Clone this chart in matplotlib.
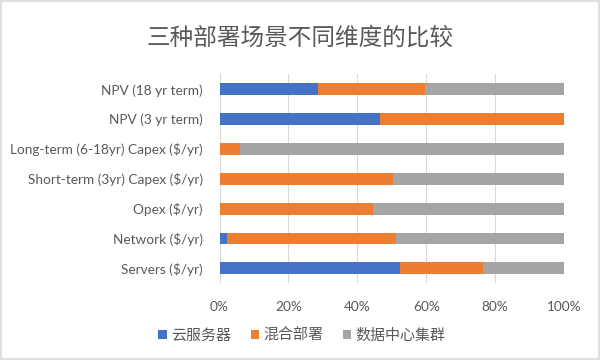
import matplotlib
matplotlib.use("Agg")
import matplotlib.pyplot as plt
from matplotlib.patches import Rectangle
import numpy as np

plt.rcParams['font.family'] = ['Lato', 'Noto Sans CJK SC', 'DejaVu Sans']

categories = ["Servers ($/yr)", "Network ($/yr)", "Opex ($/yr)",
              "Short-term (3yr) Capex ($/yr)", "Long-term (6-18yr) Capex ($/yr)",
              "NPV (3 yr term)", "NPV (18 yr term)"]
cloud = [52.4, 2.1, 0.0, 0.0, 0.0, 46.7, 28.7]
hybrid = [24.0, 49.1, 44.7, 50.3, 6.0, 53.3, 31.0]
datacenter = [23.6, 48.8, 55.3, 49.7, 94.0, 0.0, 40.3]
series_names = ["云服务器", "混合部署", "数据中心集群"]
xticks = [0, 20, 40, 60, 80, 100]
xtick_labels = ["0%", "20%", "40%", "60%", "80%", "100%"]
title = "三种部署场景不同维度的比较"

colors = ["#4472C4", "#ED7D31", "#A5A5A5"]
text_color = "#595959"

fig = plt.figure(figsize=(6, 3.6), dpi=100)
ax = fig.add_axes([219.5/600, 1-283.3/360, (564-219.5)/600, (283.3-74.3)/360])

y = np.arange(len(categories))
left = np.zeros(len(categories))
for vals, c, name in zip([cloud, hybrid, datacenter], colors, series_names):
    ax.barh(y, vals, left=left, height=0.4, color=c, label=name, zorder=3)
    left = left + np.array(vals)

ax.set_xlim(0, 100)
ax.set_ylim(-0.5, len(categories)-0.5)
ax.set_xticks(xticks)
ax.set_xticklabels(xtick_labels)
ax.set_yticks(y)
ax.set_yticklabels(categories)
ax.tick_params(axis='both', length=0, labelsize=9.8, colors=text_color)
ax.tick_params(axis='x', pad=13)
ax.tick_params(axis='y', pad=12)
for s in ax.spines.values():
    s.set_visible(False)
ax.grid(axis='x', color='#D9D9D9', linewidth=0.8, zorder=0)

fig.text(0.5, 1-38/360, title, ha='center', va='center', fontsize=17,
         color=text_color, family=['Noto Sans CJK SC', 'DejaVu Sans'])

handles, labels = ax.get_legend_handles_labels()
leg = fig.legend(handles, labels, loc='center', bbox_to_anchor=(302/600, 1-336/360),
                 ncol=3, frameon=False, handlelength=0.55, handleheight=0.55,
                 handletextpad=0.3, columnspacing=1.3,
                 prop={'family': ['Noto Sans CJK SC', 'DejaVu Sans'], 'size': 10.8})
for t in leg.get_texts():
    t.set_color(text_color)

fig.patches.append(Rectangle((0.002, 0.002), 0.996, 0.996, transform=fig.transFigure,
                             fill=False, edgecolor='#D9D9D9', linewidth=1.2))

fig.savefig("out.png", dpi=100)
